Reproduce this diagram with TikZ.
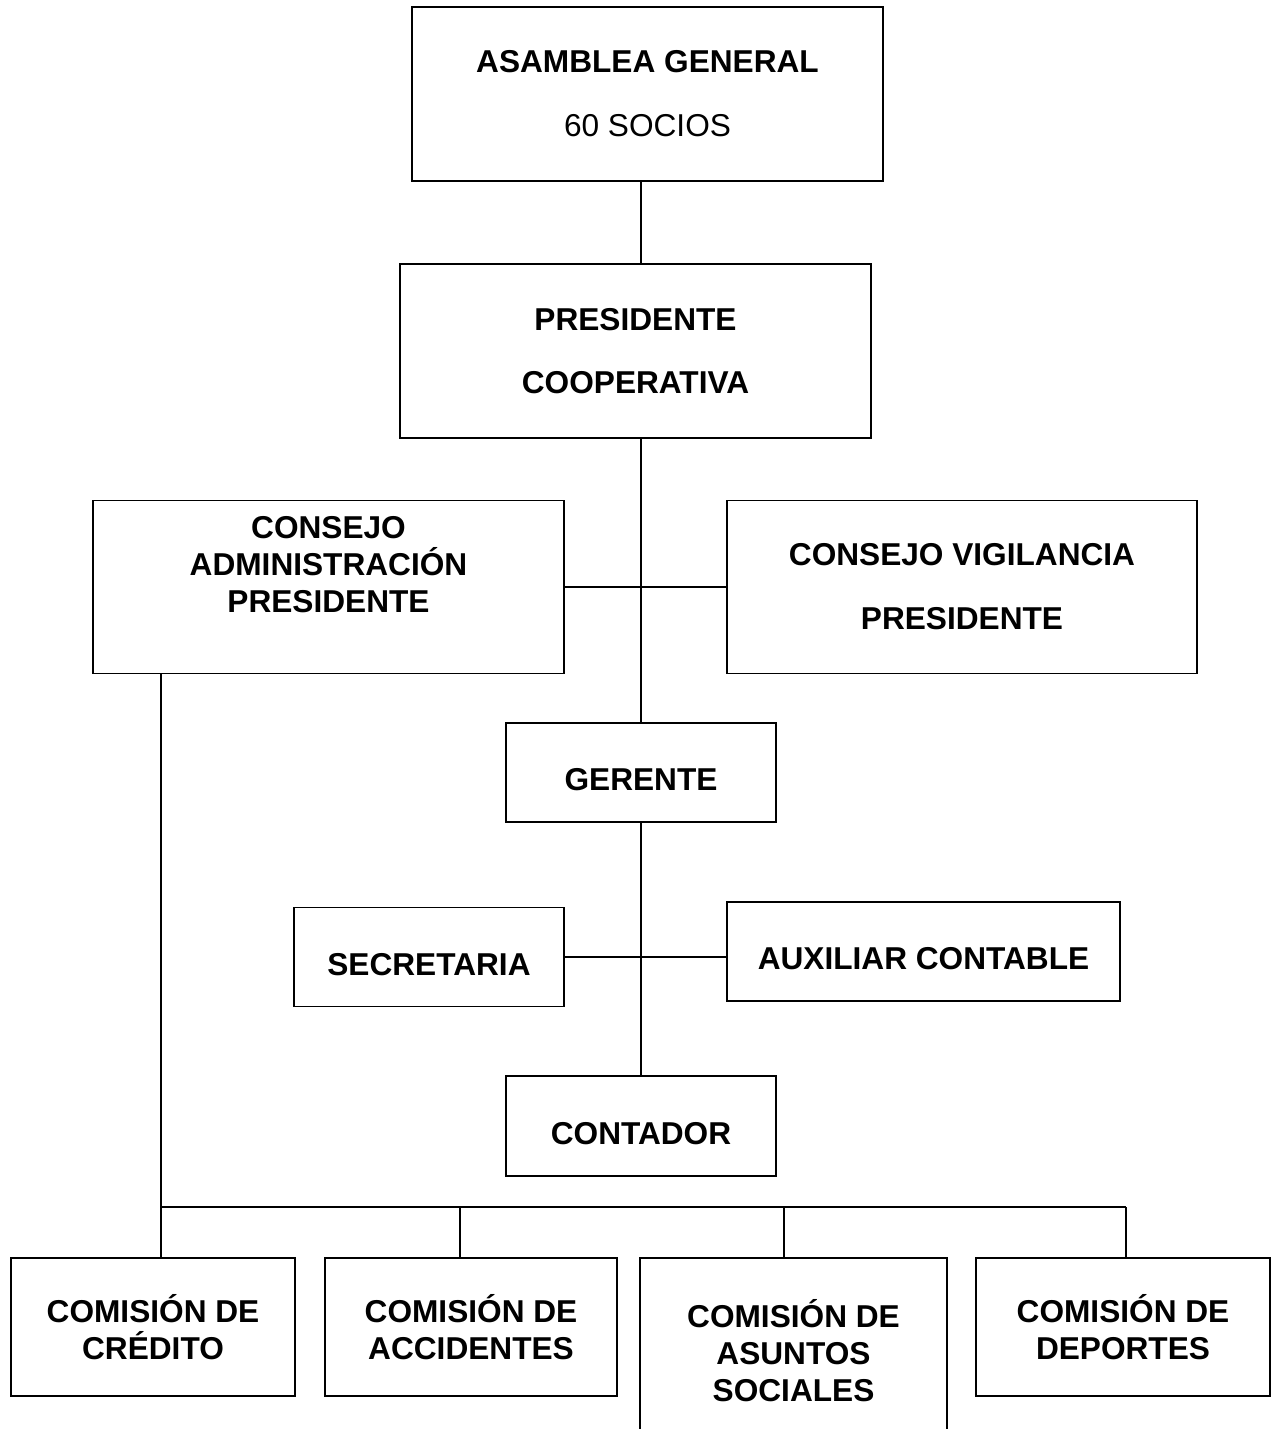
\documentclass[tikz,border=0pt]{standalone}
\usepackage{fontspec}
\setmainfont{Liberation Sans}

\begin{document}
\begin{tikzpicture}
	[x=0.02cm, y=-0.02cm, line width=1pt,
	 box/.style={draw, align=center, inner sep=0pt, font=\fontsize{18}{21}\selectfont\bfseries},
	 oneline/.style={box, text height=21pt, text depth=0pt}]
	\useasboundingbox (0,0) rectangle (1273,1429);
	% top of the chart
	\node[box, minimum width=9.42cm, minimum height=3.48cm] (asam) at (647.5,94) {ASAMBLEA GENERAL\\[0.54cm]{\mdseries 60 SOCIOS}};
	\node[box, minimum width=9.42cm, minimum height=3.48cm] (pres) at (635.5,351) {PRESIDENTE\\[0.52cm]COOPERATIVA};
	\node[box, minimum width=9.42cm, minimum height=3.46cm] (cadm) at (328.5,587) {};
	\node[box, draw=none] at (328.5,565) {CONSEJO\\ADMINISTRACIÓN\\PRESIDENTE};
	\node[box, minimum width=9.4cm, minimum height=3.46cm] (cvig) at (962,587) {CONSEJO VIGILANCIA\\[0.54cm]PRESIDENTE};
	% staff
	\node[oneline, minimum width=5.4cm, minimum height=1.98cm] (ger) at (641,772.5) {GERENTE};
	\node[oneline, minimum width=5.4cm, minimum height=1.98cm] (sec) at (429,957) {SECRETARIA};
	\node[oneline, minimum width=7.86cm, minimum height=1.98cm] (aux) at (923.5,951.5) {AUXILIAR CONTABLE};
	\node[oneline, minimum width=5.4cm, minimum height=2cm] (cont) at (641,1126) {CONTADOR};
	% commissions
	\node[box, minimum width=5.68cm, minimum height=2.76cm] (ccred) at (153,1327) {COMISIÓN DE\\CRÉDITO};
	\node[box, minimum width=5.84cm, minimum height=2.76cm] (cacc) at (471,1327) {COMISIÓN DE\\ACCIDENTES};
	\node[box, minimum width=6.14cm, minimum height=3.72cm] (casu) at (793.5,1351) {COMISIÓN DE\\ASUNTOS\\SOCIALES};
	\node[box, minimum width=5.88cm, minimum height=2.76cm] (cdep) at (1123,1327) {COMISIÓN DE\\DEPORTES};
	\coordinate (bus) at (161,1207);
	\coordinate (busend) at ([xshift=0.06cm]cdep.north |- bus);

	\draw (asam.south -| ger) -- (pres.north -| ger);
	\draw (pres.south -| ger) -- (ger.north);
	\draw (cadm.east) -- (cadm.east -| cvig.west);
	\draw (ger) -- (cont);
	\draw (sec) -- (sec -| aux.west);
	\draw (cadm.south -| bus) -- (bus |- ccred.north);
	\draw (bus) -- (busend);
	\draw ([xshift=-0.22cm]cacc.north) -- ([xshift=-0.22cm]cacc.north |- bus);
	\draw ([xshift=-0.19cm]casu.north) -- ([xshift=-0.19cm]casu.north |- bus);
	\draw (busend) -- (busend |- cdep.north);
\end{tikzpicture}
\end{document}
